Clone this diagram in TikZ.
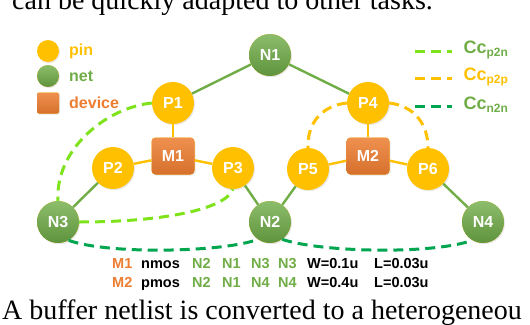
\documentclass[tikz,border=0pt]{standalone}
\usepackage{fontspec}
\setmainfont{Liberation Serif}
\setsansfont{Liberation Sans}
\usetikzlibrary{shadows}
\definecolor{PinYellow}{HTML}{FFC000}
\definecolor{NetGreen}{HTML}{70AD47}
\definecolor{DevOrange}{HTML}{ED7D31}
\definecolor{LimeDash}{HTML}{7FE31C}
\definecolor{DeepGreen}{HTML}{00A550}
\tikzset{
  pin node/.style={circle,fill=PinYellow,minimum size=42pt,inner sep=0pt,
    font=\sffamily\bfseries\fontsize{16}{16}\selectfont,text=white,
    drop shadow={opacity=.18,shadow xshift=1pt,shadow yshift=-1.2pt}},
  net node/.style={pin node,top color=NetGreen!80!white,bottom color=NetGreen!85!black},
  device node/.style={pin node,rectangle,rounded corners=4pt,minimum width=43pt,
    minimum height=37pt,top color=DevOrange!85!white,bottom color=DevOrange!90!black},
  pin edge/.style={draw=PinYellow,line width=2.4pt},
  net edge/.style={draw=NetGreen,line width=2.4pt},
  cc p2n/.style={draw=LimeDash,line width=3pt,dash pattern=on 10pt off 6pt},
  cc p2p/.style={cc p2n,draw=PinYellow},
  cc n2n/.style={cc p2n,draw=DeepGreen},
  legend text/.style={anchor=west,inner sep=0pt,font=\sffamily\bfseries\fontsize{16}{16}\selectfont},
  table text/.style={anchor=base west,inner sep=0pt,font=\sffamily\bfseries\fontsize{14.5}{15}\selectfont},
  paper text/.style={anchor=base west,inner sep=0pt,font=\fontsize{28}{28}\selectfont}
}
\begin{document}
\begin{tikzpicture}[x=1pt,y=-1pt]
  \clip (0,0) rectangle (530,324);
  \useasboundingbox (0,0) rectangle (530,324);
  % text of the page around the figure
  \node[paper text] (above) at (12,9.5) {can be quickly adapted to other tasks.};
  \node[paper text] (below) at (2,319) {A buffer netlist is converted to a heterogeneou};
  % legend
  \node[pin node,minimum size=22pt] (kpin) at (48,51) {};
  \node[net node,minimum size=22pt] (knet) at (48,76) {};
  \node[device node,minimum width=22pt,minimum height=21pt,rounded corners=2pt] (kdev) at (48,103) {};
  \node[legend text,text=PinYellow] (tpin) at (69,51) {pin};
  \node[legend text,text=NetGreen] (tnet) at (69,76) {net};
  \node[legend text,text=DevOrange] (tdev) at (69,103) {device};
  \draw[cc p2n] (415,51) -- (452,51) node[legend text,text=NetGreen,xshift=10pt,yshift=1pt] (tp2n)
    {\fontsize{18}{18}\selectfont Cc\textsubscript{\fontsize{12}{12}\selectfont p2n}};
  \draw[cc p2p] (415,78) -- (452,78) node[legend text,text=PinYellow,xshift=10pt,yshift=1pt] (tp2p)
    {\fontsize{18}{18}\selectfont Cc\textsubscript{\fontsize{12}{12}\selectfont p2p}};
  \draw[cc n2n] (415,106) -- (452,106) node[legend text,text=NetGreen,xshift=10pt,yshift=1pt] (tn2n)
    {\fontsize{18}{18}\selectfont Cc\textsubscript{\fontsize{12}{12}\selectfont n2n}};
  % graph
  \node[net node] (N1) at (270,55) {N1};
  \node[pin node] (P1) at (173,103) {P1};
  \node[pin node] (P4) at (368,103) {P4};
  \node[device node] (M1) at (173,156) {M1};
  \node[device node] (M2) at (368,156) {M2};
  \node[pin node] (P2) at (113,168) {P2};
  \node[pin node] (P3) at (233,168) {P3};
  \node[pin node] (P5) at (308,169) {P5};
  \node[pin node] (P6) at (428,169) {P6};
  \node[net node] (N3) at (58,222) {N3};
  \node[net node] (N2) at (270,222) {N2};
  \node[net node] (N4) at (483,222) {N4};
  \draw[net edge] (N1) -- (P1);
  \draw[net edge] (N1) -- (P4);
  \draw[pin edge] (P1) -- (M1);
  \draw[pin edge] (M1) -- (P2);
  \draw[pin edge] (M1) -- (P3);
  \draw[pin edge] (P4) -- (M2);
  \draw[pin edge] (M2) -- (P5);
  \draw[pin edge] (M2) -- (P6);
  \draw[net edge] (P2) -- (N3);
  \draw[net edge] (P3) -- (N2);
  \draw[net edge] (P5) -- (N2);
  \draw[net edge] (P6) -- (N4);
  % coupling caps
  \draw[cc p2n] (P1.west) .. controls (105,108) and (55,150) .. (N3.north);
  \draw[cc p2n] (N3.east) .. controls (160,222) and (225,210) .. (P3.south);
  \draw[cc p2p] (P4.west) .. controls (320,106) and (307,125) .. (P5.north);
  \draw[cc p2p] (P4.east) .. controls (415,106) and (428,125) .. (P6.north);
  \draw[cc n2n] (N3.-60) .. controls (110,255) and (225,252) .. (N2.-125);
  \draw[cc n2n] (N2.-55) .. controls (320,252) and (430,255) .. (N4.-120);
  % netlist
  \foreach \tx/\tc/\tw [count=\i] in {112/DevOrange/M1,141/black/nmos,192/NetGreen/N2,
      222/NetGreen/N1,251/NetGreen/N3,278/NetGreen/N3,307/black/W=0.1u,374/black/L=0.03u}
    \node[table text,text=\tc] (ra\i) at (\tx,268) {\tw};
  \foreach \tx/\tc/\tw [count=\i] in {112/DevOrange/M2,141/black/pmos,192/NetGreen/N2,
      222/NetGreen/N1,251/NetGreen/N4,278/NetGreen/N4,307/black/W=0.4u,374/black/L=0.03u}
    \node[table text,text=\tc] (rb\i) at (\tx,287) {\tw};
\end{tikzpicture}
\end{document}
